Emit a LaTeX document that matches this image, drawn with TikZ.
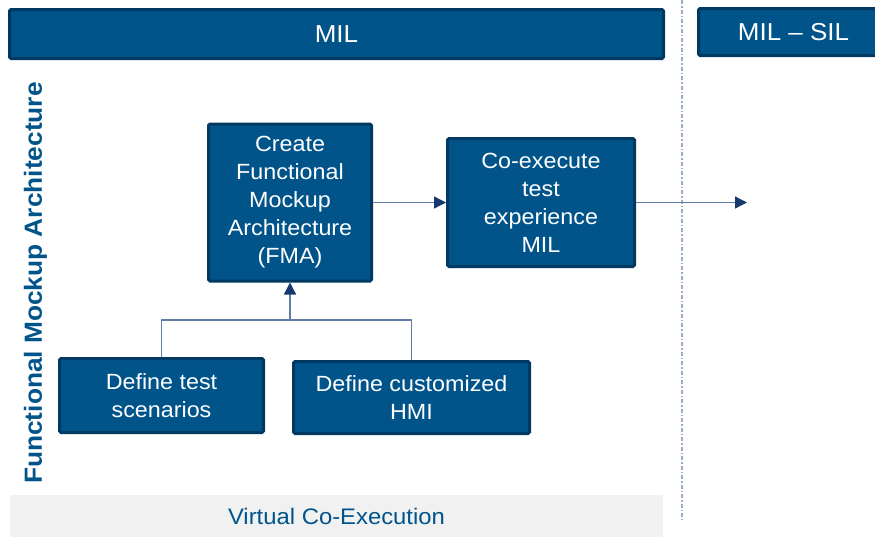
\documentclass[tikz,border=0pt]{standalone}
\usepackage{fontspec}
\setmainfont[FakeStretch=1.06]{Liberation Sans}
\usetikzlibrary{arrows.meta}

\definecolor{milblue}{RGB}{0,84,138}
\definecolor{milborder}{RGB}{0,58,98}
\definecolor{linkblue}{RGB}{95,125,165}
\definecolor{tipblue}{RGB}{22,58,112}
\definecolor{lightbar}{RGB}{241,241,241}
\definecolor{sepline}{RGB}{150,172,200}

\tikzset{
  stepbox/.style={draw=milborder, line width=3pt, fill=milblue, text=white,
    rounded corners=1.5pt, align=center, inner sep=0pt,
    font=\fontsize{22}{28}\selectfont},
  phasebar/.style={stepbox, font=\fontsize{24.5}{28}\selectfont},
  link/.style={draw=linkblue, line width=1.3pt},
  tip/.style={-{Triangle[length=12pt,width=12pt,color=tipblue]}}
}

\begin{document}
\begin{tikzpicture}[x=1pt, y=-1pt]
  \useasboundingbox (0,0) rectangle (875,538);
  % phases
  \node[phasebar, minimum width=654, minimum height=49] (mil) at (336.5,34) {MIL};
  \node[phasebar, minimum width=190, minimum height=47] (milsil) at (793.5,32) {MIL – SIL};
  \draw[sepline, line width=1.5pt, dash pattern=on 4pt off 2pt on 1.5pt off 2pt] (682,0) -- (682,520);
  % bottom band and side label
  \node[fill=lightbar, minimum width=653, minimum height=42, inner sep=0pt,
        text=milblue, font=\fontsize{22.5}{28}\selectfont] (cosim) at (336.5,516) {Virtual Co-Execution};
  \node[rotate=90, text=milblue, font=\bfseries\fontsize{24.8}{28}\selectfont] (fmalabel) at (35.5,283) {Functional Mockup Architecture};
  % steps
  \node[stepbox, minimum width=163, minimum height=157] (fma) at (290,202.5)
       {Create\\Functional\\Mockup\\Architecture\\(FMA)};
  \node[stepbox, minimum width=187, minimum height=128] (coexec) at (541,202.5)
       {Co-execute\\test\\experience\\MIL};
  \node[stepbox, minimum width=204, minimum height=74] (scen) at (161.5,395.5)
       {Define test\\scenarios};
  \node[stepbox, minimum width=236, minimum height=72] (hmi) at (411.5,397.5)
       {Define customized\\HMI};
  % connectors
  \coordinate (join) at (290,320);
  \coordinate (next) at (747,202.5);
  \draw[link] (scen.north) |- (join) -| (hmi.north);
  \draw[link, tip] (join) -- (fma.south);
  \draw[link, tip] (fma.east) -- (coexec.west);
  \draw[link, tip] (coexec.east) -- (next);
\end{tikzpicture}
\end{document}
